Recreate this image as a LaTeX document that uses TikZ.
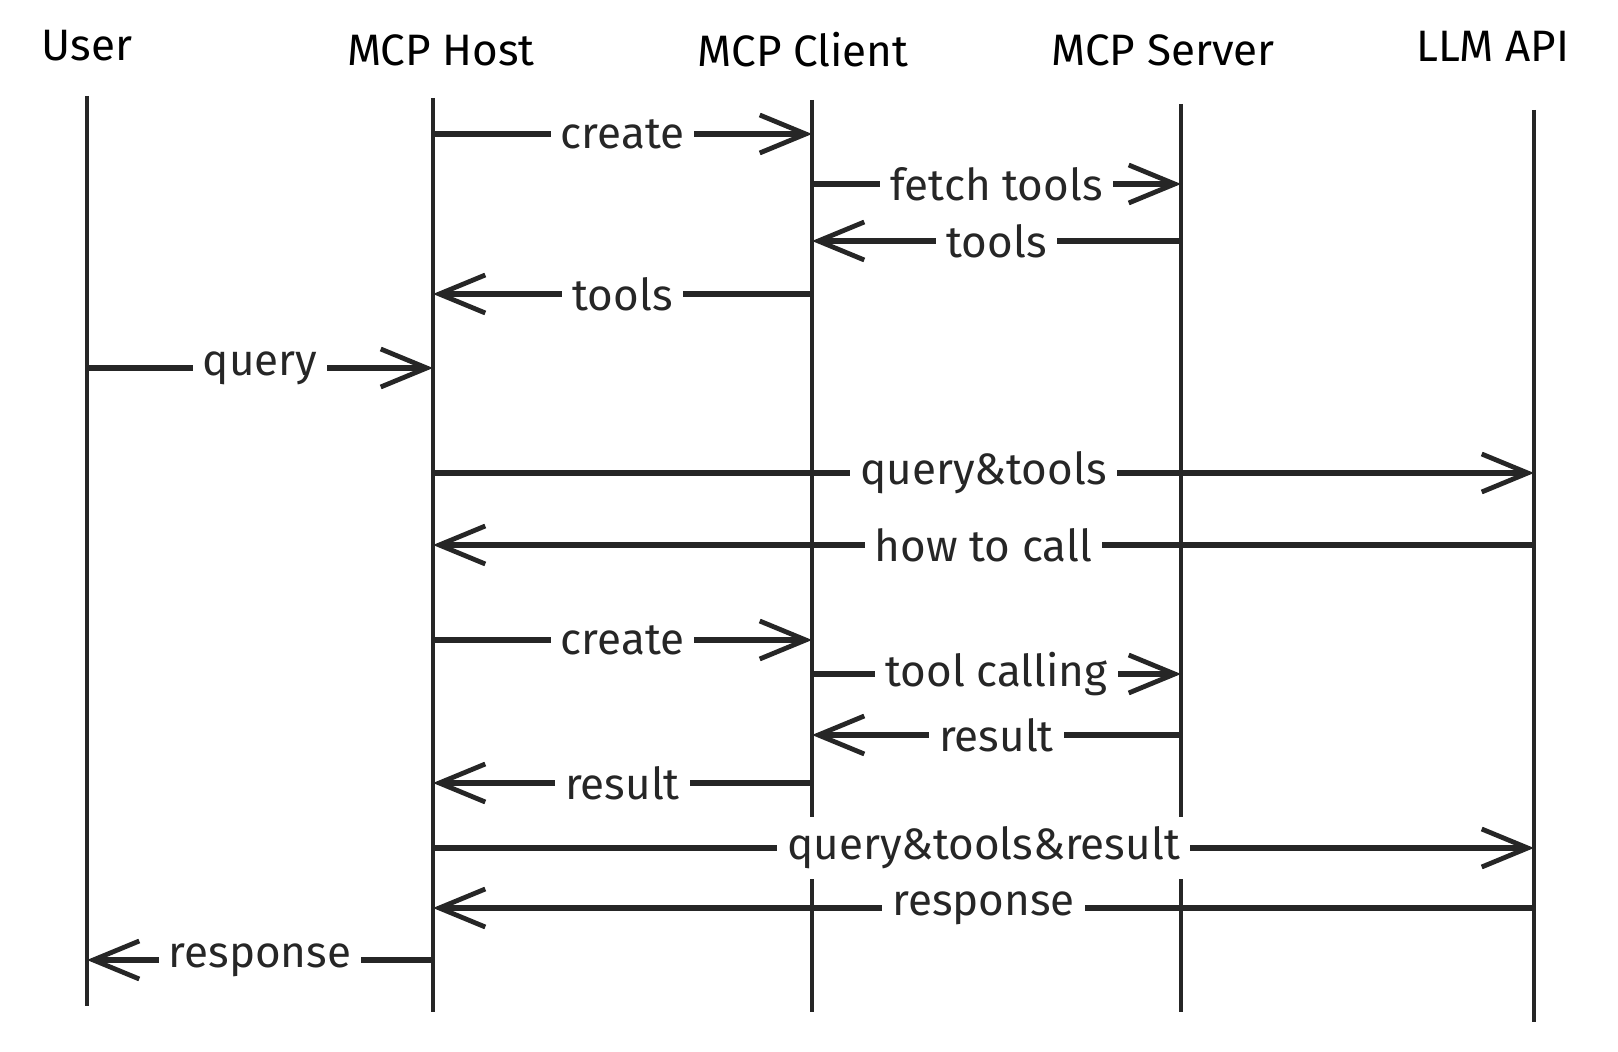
\documentclass[tikz,border=0pt]{standalone}
\usepackage{fontspec}
\setmainfont{Fira Sans}
\usetikzlibrary{arrows.meta}

\tikzset{
  actor/.style={font=\fontsize{22}{27}\selectfont},
  life/.style={line width=1.7pt,draw=black!85},
  msg/.style={line width=2.8pt,draw=black!85,-{Straight Barb[length=23pt,width=19pt,line width=2.4pt]}},
  lbl/.style={fill=white,inner sep=5pt,text=black!85,font=\fontsize{22}{27}\selectfont}
}

\begin{document}
\begin{tikzpicture}[x=0.5pt,y=-0.5pt]
  \useasboundingbox (0,0) rectangle (1618,1052);
  \node[actor] (user) at (87,46){User};
  \node[actor] (host) at (441,50){MCP Host};
  \node[actor] (client) at (803,50){MCP Client};
  \node[actor] (server) at (1163,50){MCP Server};
  \node[actor] (llm) at (1493,46){LLM API};
  \coordinate (userL) at (87,96);
  \coordinate (hostL) at (433,98);
  \coordinate (clientL) at (812,100);
  \coordinate (serverL) at (1181,104);
  \coordinate (llmL) at (1534,110);
  \foreach \l/\b in {userL/1006,hostL/1012,clientL/1012,serverL/1012,llmL/1022}
    \draw[life] (\l) -- (\l |- 0,\b);
  \foreach \y/\a/\b/\txt in {
      134/hostL/clientL/create,
      184/clientL/serverL/fetch tools,
      241/serverL/clientL/tools,
      294/clientL/hostL/tools,
      368/userL/hostL/query,
      473/hostL/llmL/query\&tools,
      545/llmL/hostL/how to call,
      640/hostL/clientL/create,
      674/clientL/serverL/tool calling,
      735/serverL/clientL/result,
      783/clientL/hostL/result,
      848/hostL/llmL/query\&tools\&result,
      908/llmL/hostL/response,
      960/hostL/userL/response}
    \draw[msg] (\a |- 0,\y) -- node[lbl]{\txt} (\b |- 0,\y);
\end{tikzpicture}
\end{document}
